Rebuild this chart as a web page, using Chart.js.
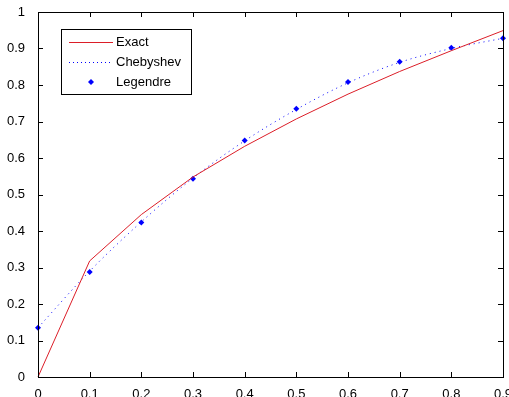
<!DOCTYPE html>
<html>
<head>
<meta charset="utf-8">
<script src="https://cdn.jsdelivr.net/npm/chart.js@4"></script>
<style>
  html, body { margin: 0; padding: 0; background: #fff; }
  #wrap { width: 509px; height: 397px; }
</style>
</head>
<body>
<div id="wrap"><canvas id="myChart" width="509" height="397"></canvas></div>
<script>
const xs = [0, 0.1, 0.2, 0.3, 0.4, 0.5, 0.6, 0.7, 0.8, 0.9];
const exact = [0, 0.318, 0.445, 0.548, 0.632, 0.707, 0.775, 0.837, 0.894, 0.949];
const chebyshev = [0.135, 0.29, 0.425, 0.545, 0.647, 0.733, 0.806, 0.862, 0.9, 0.928];
const legendre = [0.135, 0.288, 0.423, 0.543, 0.648, 0.735, 0.808, 0.864, 0.902, 0.928];
const xTicks = [0, 0.1, 0.2, 0.3, 0.4, 0.5, 0.6, 0.7, 0.8, 0.9];
const yTicks = [0, 0.1, 0.2, 0.3, 0.4, 0.5, 0.6, 0.7, 0.8, 0.9, 1];

const FONT = "Liberation Sans, Arial, sans-serif";
const RED = "rgb(220,30,40)";
const BLUE = "#0000ff";

const toPts = (ys) => xs.map((x, i) => ({ x: x, y: ys[i] }));
const fmt = (v) => (v === 0 ? "0" : v === 1 ? "1" : v.toFixed(1));

// box, inward ticks and legend, matlab style
const boxPlugin = {
  id: "box",
  afterDraw(chart) {
    const { ctx, chartArea: a, scales } = chart;
    ctx.save();
    ctx.strokeStyle = "#000";
    ctx.lineWidth = 1;
    ctx.strokeRect(Math.round(a.left) + 0.5, Math.round(a.top) + 0.5,
      Math.round(a.right - a.left), Math.round(a.bottom - a.top));
    ctx.beginPath();
    xTicks.forEach((v) => {
      const px = Math.round(scales.x.getPixelForValue(v)) + 0.5;
      ctx.moveTo(px, a.bottom); ctx.lineTo(px, a.bottom - 5);
      ctx.moveTo(px, a.top); ctx.lineTo(px, a.top + 5);
    });
    yTicks.forEach((v) => {
      const py = Math.round(scales.y.getPixelForValue(v)) + 0.5;
      ctx.moveTo(a.left, py); ctx.lineTo(a.left + 5, py);
      ctx.moveTo(a.right, py); ctx.lineTo(a.right - 5, py);
    });
    ctx.stroke();

    // legend
    const lx = 61, ly = 29, lw = 130, lh = 65;
    ctx.fillStyle = "#fff";
    ctx.fillRect(lx, ly, lw, lh);
    ctx.strokeRect(lx + 0.5, ly + 0.5, lw, lh);
    const rows = [42, 62, 82];
    ctx.strokeStyle = RED;
    ctx.beginPath(); ctx.moveTo(69, rows[0] + 0.5); ctx.lineTo(113, rows[0] + 0.5); ctx.stroke();
    ctx.strokeStyle = BLUE;
    ctx.setLineDash([1, 3]);
    ctx.beginPath(); ctx.moveTo(69, rows[1] + 0.5); ctx.lineTo(113, rows[1] + 0.5); ctx.stroke();
    ctx.setLineDash([]);
    ctx.fillStyle = BLUE;
    ctx.beginPath();
    ctx.moveTo(91, rows[2] - 3); ctx.lineTo(94, rows[2]); ctx.lineTo(91, rows[2] + 3); ctx.lineTo(88, rows[2]);
    ctx.closePath(); ctx.fill();
    ctx.fillStyle = "#000";
    ctx.font = "13px " + FONT;
    ctx.textBaseline = "middle";
    ctx.fillText("Exact", 116, rows[0]);
    ctx.fillText("Chebyshev", 116, rows[1]);
    ctx.fillText("Legendre", 116, rows[2]);
    ctx.restore();
  },
};

new Chart(document.getElementById("myChart"), {
  type: "scatter",
  data: {
    datasets: [
      {
        label: "Exact",
        data: toPts(exact),
        showLine: true,
        borderColor: RED,
        borderWidth: 1,
        pointRadius: 0,
        fill: false,
      },
      {
        label: "Chebyshev",
        data: toPts(chebyshev),
        showLine: true,
        borderColor: BLUE,
        borderWidth: 1,
        borderDash: [1, 4],
        cubicInterpolationMode: "monotone",
        pointRadius: 0,
        fill: false,
      },
      {
        label: "Legendre",
        data: toPts(legendre),
        showLine: false,
        pointStyle: "rectRot",
        pointRadius: 3,
        backgroundColor: BLUE,
        borderColor: BLUE,
        borderWidth: 0,
      },
    ],
  },
  options: {
    responsive: false,
    animation: false,
    clip: false,
    layout: { padding: { top: 12, right: 6, left: 0, bottom: 0 } },
    plugins: { legend: { display: false }, tooltip: { enabled: false } },
    scales: {
      x: {
        type: "linear",
        min: 0,
        max: 0.9,
        afterBuildTicks: (s) => { s.ticks = xTicks.map((v) => ({ value: v })); },
        afterFit: (s) => { s.height = 20; s.paddingLeft = 0; s.paddingRight = 0; },
        grid: { display: false },
        border: { display: false },
        ticks: {
          color: "#000",
          font: { family: FONT, size: 13 },
          padding: 2,
          maxRotation: 0,
          autoSkip: false,
          callback: (v) => fmt(v),
        },
      },
      y: {
        type: "linear",
        min: 0,
        max: 1,
        afterBuildTicks: (s) => { s.ticks = yTicks.map((v) => ({ value: v })); },
        afterFit: (s) => { s.width = 38; s.paddingTop = 0; s.paddingBottom = 0; },
        grid: { display: false },
        border: { display: false },
        ticks: {
          color: "#000",
          font: { family: FONT, size: 13 },
          padding: 5,
          autoSkip: false,
          callback: (v) => fmt(v),
        },
      },
    },
  },
  plugins: [boxPlugin],
});
</script>
</body>
</html>
